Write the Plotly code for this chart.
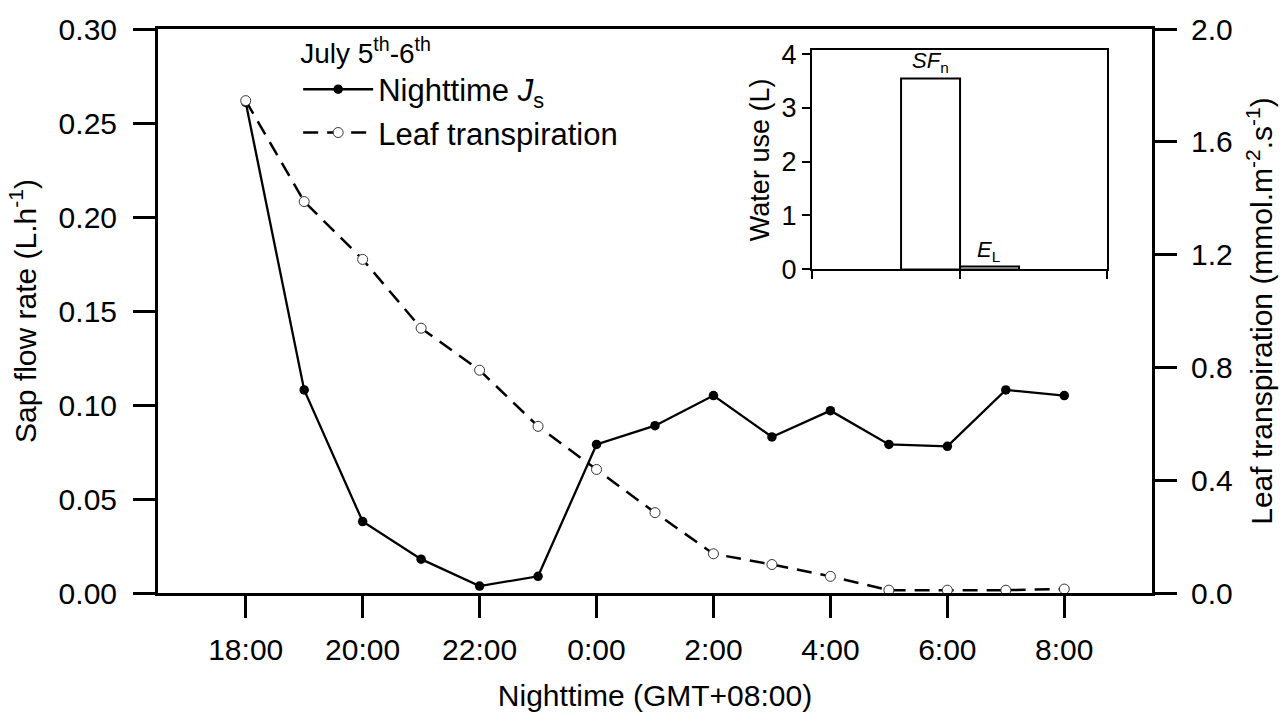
import plotly.graph_objects as go

# ---- data ----
times = ["18:00", "19:00", "20:00", "21:00", "22:00", "23:00", "0:00", "1:00",
         "2:00", "3:00", "4:00", "5:00", "6:00", "7:00", "8:00"]
tick_labels = ["18:00", "20:00", "22:00", "0:00", "2:00", "4:00", "6:00", "8:00"]
js_night = [0.261, 0.108, 0.038, 0.018, 0.0037, 0.0089, 0.079, 0.089,
            0.105, 0.083, 0.097, 0.079, 0.078, 0.108, 0.105]
leaf_trans = [1.746, 1.388, 1.183, 0.939, 0.790, 0.591, 0.438, 0.285,
              0.139, 0.101, 0.059, 0.010, 0.010, 0.010, 0.014]
inset_cats = ["<i>SF</i><sub>n</sub>", "<i>E</i><sub>L</sub>"]
water_use = [3.55, 0.05]

FONT = "Liberation Sans, Arial, sans-serif"

fig = go.Figure()
fig.add_trace(go.Scatter(
    x=times, y=js_night, name="Nighttime <i>J</i><sub>s</sub>",
    mode="lines+markers", cliponaxis=False,
    line=dict(color="black", width=2.3),
    marker=dict(symbol="circle", size=9.5, color="black"),
    yaxis="y"))
fig.add_trace(go.Scatter(
    x=times, y=leaf_trans, name="Leaf transpiration",
    mode="lines+markers", cliponaxis=False,
    line=dict(color="black", width=2.5, dash="15px,9px"),
    marker=dict(symbol="circle", size=10, color="white",
                line=dict(color="#333333", width=1)),
    yaxis="y2"))
inset_x = list(range(len(inset_cats)))
fig.add_trace(go.Bar(
    x=inset_x, y=water_use, xaxis="x3", yaxis="y3", width=1,
    marker=dict(color="white", line=dict(color="black", width=2)),
    showlegend=False))

for xi, v, lab in zip(inset_x, water_use, inset_cats):
    fig.add_annotation(x=xi, y=v, xref="x3", yref="y3", text=lab,
                       showarrow=False, yanchor="bottom", yshift=0,
                       font=dict(family=FONT, size=22, color="black"))

axis_common = dict(showline=True, linecolor="black", showgrid=False,
                   zeroline=False, ticks="outside", tickcolor="black",
                   tickfont=dict(family=FONT, size=30, color="black"))

fig.update_layout(
    width=1287, height=719,
    margin=dict(l=158, r=135, t=25, b=119),
    paper_bgcolor="white", plot_bgcolor="white",
    font=dict(family=FONT, color="black"),
    bargap=0,
    xaxis=dict(**axis_common, type="category", range=[-1.5, 15.5],
               tickvals=tick_labels, ticktext=tick_labels,
               linewidth=3, mirror=True, ticklen=22, tickwidth=3,
               ticklabelstandoff=6,
               title=dict(text="Nighttime (GMT+08:00)", standoff=20,
                          font=dict(family=FONT, size=30))),
    yaxis=dict(**axis_common, range=[0, 0.30], dtick=0.05, tickformat=".2f",
               linewidth=3, ticklen=22, tickwidth=3, ticklabelstandoff=10,
               title=dict(text="Sap flow rate (L.h<sup>-1</sup>)", standoff=14,
                          font=dict(family=FONT, size=30))),
    yaxis2=dict(**axis_common, overlaying="y", side="right", range=[0, 2.0],
                dtick=0.4, tickformat=".1f", linewidth=3, ticklen=22,
                tickwidth=3, ticklabelstandoff=8,
                title=dict(text="Leaf transpiration (mmol.m<sup>-2</sup>.s<sup>-1</sup>)",
                           standoff=20, font=dict(family=FONT, size=30))),
    xaxis3=dict(showline=True, linecolor="black", linewidth=2, mirror=True,
                showgrid=False, zeroline=False, domain=[0.658, 0.955],
                anchor="y3", range=[-2, 3], tickvals=[-2, 0.5, 3],
                showticklabels=False, ticks="outside", ticklen=8,
                tickwidth=2, tickcolor="black"),
    yaxis3=dict(showline=True, linecolor="black", linewidth=2, mirror=True,
                showgrid=False, zeroline=False, domain=[0.574, 0.962],
                anchor="x3", range=[0, 4.07], dtick=1, ticks="outside",
                ticklen=8, tickwidth=2, tickcolor="black",
                tickfont=dict(family=FONT, size=27, color="black"),
                title=dict(text="Water use (L)", standoff=4,
                           font=dict(family=FONT, size=27))),
    legend=dict(x=0.141, y=1.005, xanchor="left", yanchor="top",
                bgcolor="rgba(0,0,0,0)", itemwidth=70,
                font=dict(family=FONT, size=31, color="black"),
                title=dict(text="July 5<sup>th</sup>-6<sup>th</sup>",
                           font=dict(family=FONT, size=28, color="black")),
                tracegroupgap=0),
)

fig.write_html("out.html")
